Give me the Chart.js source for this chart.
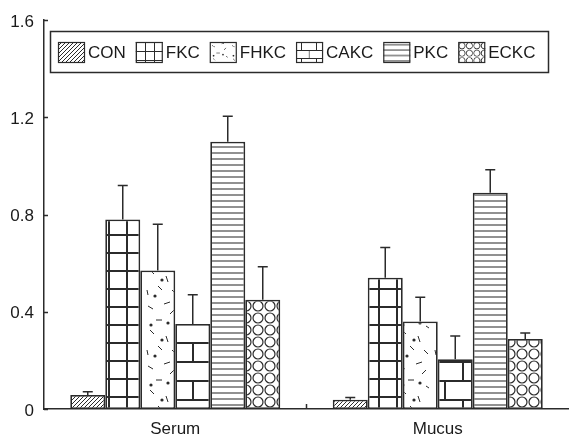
<!DOCTYPE html>
<html>
<head>
<meta charset="utf-8">
<script src="https://cdn.jsdelivr.net/npm/chart.js@4"></script>
<style>
  html, body { margin: 0; padding: 0; background: #fff; }
  #wrap { width: 569px; height: 439px; position: relative; }
</style>
</head>
<body>
<div id="wrap"><canvas id="chart"></canvas></div>
<script>
// ---- data ----
const categories = ['Serum', 'Mucus'];
const seriesNames = ['CON', 'FKC', 'FHKC', 'CAKC', 'PKC', 'ECKC'];
const conVals  = [0.058, 0.038];
const fkcVals  = [0.78, 0.54];
const fhkcVals = [0.57, 0.36];
const cakcVals = [0.35, 0.205];
const pkcVals  = [1.10, 0.89];
const eckcVals = [0.45, 0.288];
const conErr  = [0.013, 0.009];
const fkcErr  = [0.14, 0.125];
const fhkcErr = [0.19, 0.10];
const cakcErr = [0.12, 0.095];
const pkcErr  = [0.105, 0.095];
const eckcErr = [0.135, 0.025];
const yTicks = [0, 0.4, 0.8, 1.2, 1.6];

const INK = '#2b2b2b';
const FONT = 'Liberation Sans, Arial, sans-serif';

// ---- hatch tiles ----
function makeTile(w, h, draw) {
    const c = document.createElement('canvas');
    c.width = w; c.height = h;
    const g = c.getContext('2d');
    g.fillStyle = '#fff';
    g.fillRect(0, 0, w, h);
    g.strokeStyle = INK;
    g.fillStyle = INK;
    draw(g, w, h);
    return c;
}

const tiles = {
    CON: makeTile(4, 4, (g) => {
        g.lineWidth = 1;
        g.beginPath();
        g.moveTo(-1, 5); g.lineTo(5, -1);
        g.moveTo(-1, 1); g.lineTo(1, -1);
        g.moveTo(3, 5); g.lineTo(5, 3);
        g.stroke();
    }),
    FKC: makeTile(18, 18, (g) => {
        g.lineWidth = 2;
        g.beginPath();
        g.moveTo(1, 0); g.lineTo(1, 18);
        g.moveTo(0, 1); g.lineTo(18, 1);
        g.stroke();
    }),
    FHKC: makeTile(36, 60, (g) => {
        g.lineWidth = 1;
        const dashes = [[4, 6, 9, 9], [20, 4, 26, 2], [12, 20, 18, 20], [26, 14, 30, 10],
                        [6, 30, 10, 34], [22, 36, 24, 42], [14, 46, 18, 50], [28, 50, 32, 54],
                        [3, 50, 4, 55], [30, 26, 33, 28]];
        g.beginPath();
        dashes.forEach(d => { g.moveTo(d[0], d[1]); g.lineTo(d[2], d[3]); });
        g.stroke();
        [[7, 25], [24, 23], [18, 40], [11, 56]].forEach(p => {
            g.beginPath(); g.arc(p[0], p[1], 1.6, 0, Math.PI * 2); g.fill();
        });
    }),
    CAKC: makeTile(36, 38, (g) => {
        g.lineWidth = 2;
        g.beginPath();
        g.moveTo(0, 1); g.lineTo(36, 1);
        g.moveTo(0, 20); g.lineTo(36, 20);
        g.moveTo(13, 1); g.lineTo(13, 20);
        g.moveTo(31, 20); g.lineTo(31, 38);
        g.stroke();
    }),
    PKC: makeTile(6, 6, (g) => {
        g.lineWidth = 1.3;
        g.strokeStyle = '#555';
        g.beginPath();
        g.moveTo(0, 3); g.lineTo(6, 3);
        g.stroke();
    }),
    ECKC: makeTile(12, 12, (g) => {
        g.lineWidth = 1.2;
        g.beginPath();
        g.arc(6, 6, 5, 0, Math.PI * 2);
        g.stroke();
    })
};
// smaller versions of the tiles for the legend swatches
const legendScale = { CON: 1, FKC: 0.5, FHKC: 0.55, CAKC: 0.42, PKC: 0.9, ECKC: 0.62 };

const pctx = document.createElement('canvas').getContext('2d');
const patterns = {};
seriesNames.forEach(n => { patterns[n] = pctx.createPattern(tiles[n], 'repeat'); });

const valueArrays = [conVals, fkcVals, fhkcVals, cakcVals, pkcVals, eckcVals];
const errArrays = [conErr, fkcErr, fhkcErr, cakcErr, pkcErr, eckcErr];

// ---- plugins ----
const errorBars = {
    id: 'errorBars',
    afterDatasetsDraw(chart) {
        const ctx = chart.ctx;
        const y = chart.scales.y;
        ctx.save();
        ctx.strokeStyle = INK;
        ctx.lineWidth = 1.5;
        chart.data.datasets.forEach((ds, di) => {
            const meta = chart.getDatasetMeta(di);
            meta.data.forEach((bar, i) => {
                const top = y.getPixelForValue(ds.data[i] + ds.err[i]);
                ctx.beginPath();
                ctx.moveTo(bar.x, bar.y);
                ctx.lineTo(bar.x, top);
                ctx.moveTo(bar.x - 5, top);
                ctx.lineTo(bar.x + 5, top);
                ctx.stroke();
            });
        });
        ctx.restore();
    }
};

const axisTicks = {
    id: 'axisTicks',
    afterDraw(chart) {
        const ctx = chart.ctx;
        const { x, y } = chart.scales;
        const area = chart.chartArea;
        ctx.save();
        ctx.strokeStyle = INK;
        ctx.lineWidth = 1.5;
        ctx.beginPath();
        yTicks.forEach(v => {
            const py = Math.round(y.getPixelForValue(v)) + 0.5;
            ctx.moveTo(area.left, py);
            ctx.lineTo(area.left + 4, py);
        });
        // divider between categories
        const mid = (x.getPixelForValue(0) + x.getPixelForValue(1)) / 2;
        ctx.moveTo(mid, area.bottom);
        ctx.lineTo(mid, area.bottom - 5);
        ctx.stroke();
        ctx.restore();
    }
};

const boxLegend = {
    id: 'boxLegend',
    afterDraw(chart) {
        const ctx = chart.ctx;
        ctx.save();
        ctx.fillStyle = '#fff';
        ctx.fillRect(50, 31, 499, 42);
        ctx.strokeStyle = INK;
        ctx.lineWidth = 1.5;
        ctx.strokeRect(50.5, 31.5, 498, 41);
        ctx.font = '17px ' + FONT;
        ctx.textBaseline = 'middle';
        let px = 58;
        chart.data.datasets.forEach(ds => {
            const pat = ctx.createPattern(tiles[ds.label], 'repeat');
            const s = legendScale[ds.label];
            pat.setTransform(new DOMMatrix([s, 0, 0, s, px, 42]));
            ctx.fillStyle = pat;
            ctx.fillRect(px, 42, 27, 21);
            ctx.strokeStyle = INK;
            ctx.lineWidth = 1.2;
            ctx.strokeRect(px + 0.5, 42.5, 26, 20);
            ctx.fillStyle = '#1a1a1a';
            ctx.fillText(ds.label, px + 30, 53);
            px += 30 + ctx.measureText(ds.label).width + 10;
        });
        ctx.restore();
    }
};

// ---- chart ----
new Chart(document.getElementById('chart'), {
    type: 'bar',
    data: {
        labels: categories,
        datasets: seriesNames.map((name, i) => ({
            label: name,
            data: valueArrays[i],
            err: errArrays[i],
            backgroundColor: patterns[name],
            borderColor: INK,
            borderWidth: 1.8,
            borderSkipped: false,
            categoryPercentage: 0.8,
            barPercentage: 1.0
        }))
    },
    options: {
        responsive: true,
        maintainAspectRatio: false,
        animation: false,
        layout: { padding: { top: 16, right: 0, left: 0, bottom: 0 } },
        plugins: {
            legend: { display: false },
            tooltip: { enabled: false }
        },
        scales: {
            x: {
                grid: { display: false, drawTicks: false },
                border: { display: true, color: INK, width: 1.5 },
                ticks: { color: '#1a1a1a', font: { family: FONT, size: 17 }, padding: 10 },
                afterFit: s => { s.height = 30; }
            },
            y: {
                min: 0, max: 1.6,
                grid: { display: false, drawTicks: false },
                border: { display: true, color: INK, width: 1.5 },
                ticks: {
                    stepSize: 0.4,
                    color: '#1a1a1a',
                    font: { family: FONT, size: 17 },
                    padding: 10,
                    labelOffset: 2,
                    callback: v => String(Math.round(v * 10) / 10)
                },
                afterFit: s => { s.width = 44; }
            }
        }
    },
    plugins: [errorBars, axisTicks, boxLegend]
});
</script>
</body>
</html>
